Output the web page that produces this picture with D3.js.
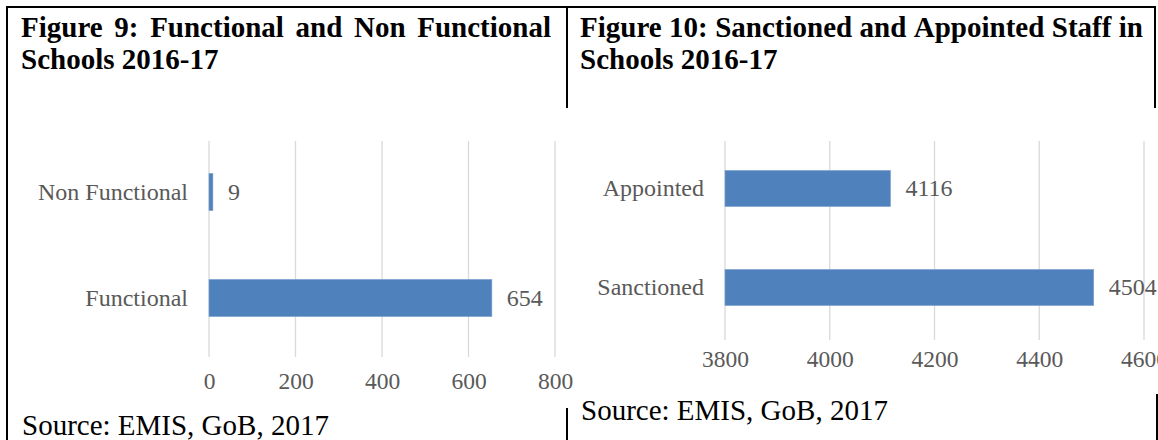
<!DOCTYPE html>
<html>
<head>
<meta charset="utf-8">
<script src="https://cdn.jsdelivr.net/npm/d3@7"></script>
<style>
  html, body { margin: 0; padding: 0; background: #fff; }
  svg { display: block; }
</style>
</head>
<body>
<svg id="chart" width="1158" height="440"></svg>
<script>
// ---- Data ----
const fig9Title1 = "Figure 9: Functional and Non Functional";
const fig9Title2 = "Schools 2016-17";
const fig9Categories = ["Non Functional", "Functional"];
const fig9Values = [9, 654];
const fig9Ticks = [0, 200, 400, 600, 800];

const fig10Title1 = "Figure 10: Sanctioned and Appointed Staff in";
const fig10Title2 = "Schools 2016-17";
const fig10Categories = ["Appointed", "Sanctioned"];
const fig10Values = [4116, 4504];
const fig10Ticks = [3800, 4000, 4200, 4400, 4600];

const sourceText = "Source: EMIS, GoB, 2017";

// ---- Styles ----
const SERIF = "'Liberation Serif', 'Times New Roman', serif";
const BAR = "#4f81bd";
const GRID = "#d9d9d9";
const TXT = "#595959";

const svg = d3.select("#chart");
svg.append("rect").attr("width", 1158).attr("height", 440).attr("fill", "#fff");

// ---- Table borders ----
const borders = svg.append("g").attr("stroke", "#000").attr("stroke-width", 2);
borders.append("line").attr("x1", 6).attr("x2", 1156).attr("y1", 7).attr("y2", 7);
borders.append("line").attr("x1", 7).attr("x2", 7).attr("y1", 6).attr("y2", 440);
borders.append("line").attr("x1", 567).attr("x2", 567).attr("y1", 6).attr("y2", 108);
borders.append("line").attr("x1", 1155).attr("x2", 1155).attr("y1", 6).attr("y2", 108);
borders.append("line").attr("x1", 567).attr("x2", 567).attr("y1", 408).attr("y2", 440);
borders.append("line").attr("x1", 1157).attr("x2", 1157).attr("y1", 394).attr("y2", 440);

// ---- Title helpers ----
function justified(str, x0, x1, y) {
  const words = str.split(" ");
  const g = svg.append("g")
    .attr("font-family", SERIF).attr("font-weight", "bold")
    .attr("font-size", 29).attr("fill", "#000");
  const nodes = words.map(w => g.append("text").attr("y", y).text(w));
  const widths = nodes.map(n => n.node().getComputedTextLength());
  const total = widths.reduce((a, b) => a + b, 0);
  const gap = (x1 - x0 - total) / (words.length - 1);
  let x = x0;
  nodes.forEach((n, i) => { n.attr("x", x); x += widths[i] + gap; });
}
function plainTitle(str, x, y) {
  svg.append("text").attr("x", x).attr("y", y)
    .attr("font-family", SERIF).attr("font-weight", "bold")
    .attr("font-size", 29).attr("fill", "#000").text(str);
}

justified(fig9Title1, 21, 551, 37);
plainTitle(fig9Title2, 21, 69);
justified(fig10Title1, 580, 1143, 37);
plainTitle(fig10Title2, 580, 69);

// ---- Bar chart builder ----
function barChart(cfg) {
  const g = svg.append("g");
  // white chart area (covers table lines like the embedded image)
  g.append("rect").attr("x", cfg.area[0]).attr("y", cfg.area[1])
    .attr("width", cfg.area[2]).attr("height", cfg.area[3]).attr("fill", "#fff");

  const x = d3.scaleLinear().domain([cfg.ticks[0], cfg.ticks[cfg.ticks.length - 1]])
    .range([cfg.x0, cfg.x1]);
  const y = d3.scaleBand().domain(cfg.categories)
    .range([cfg.yTop, cfg.yBottom]).paddingInner(cfg.padIn).paddingOuter(cfg.padIn / 2);

  // gridlines
  g.append("g").selectAll("line").data(cfg.ticks).join("line")
    .attr("x1", d => x(d)).attr("x2", d => x(d))
    .attr("y1", cfg.gridTop).attr("y2", cfg.gridBottom)
    .attr("stroke", GRID).attr("stroke-width", 1.3);

  // x axis tick labels
  const xa = g.append("g").attr("transform", `translate(0,${cfg.tickY})`)
    .call(d3.axisBottom(x).tickValues(cfg.ticks).tickSize(0).tickPadding(0).tickFormat(d3.format("d")));
  xa.select(".domain").remove();
  xa.attr("font-family", SERIF);
  xa.selectAll("text").attr("font-family", SERIF).attr("font-size", 23.5)
    .attr("fill", TXT).attr("dy", "0.32em");

  // y axis category labels
  const ya = g.append("g").attr("transform", `translate(${cfg.x0},0)`)
    .call(d3.axisLeft(y).tickSize(0).tickPadding(21));
  ya.select(".domain").remove();
  ya.attr("font-family", SERIF);
  ya.selectAll("text").attr("font-family", SERIF).attr("font-size", 24).attr("fill", TXT);

  const data = cfg.categories.map((c, i) => ({ c, v: cfg.values[i] }));
  // bars
  g.append("g").selectAll("rect").data(data).join("rect")
    .attr("x", x(cfg.ticks[0])).attr("y", d => y(d.c))
    .attr("width", d => x(d.v) - x(cfg.ticks[0])).attr("height", y.bandwidth())
    .attr("fill", BAR).attr("stroke", "#7aa0cf").attr("stroke-width", 0.6);
  // value labels
  g.append("g").selectAll("text").data(data).join("text")
    .attr("x", d => x(d.v) + 15).attr("y", d => y(d.c) + y.bandwidth() / 2)
    .attr("dy", "0.32em")
    .attr("font-family", SERIF).attr("font-size", 24).attr("fill", TXT)
    .text(d => d.v);
}

barChart({
  area: [9, 109, 557, 298],
  categories: fig9Categories, values: fig9Values, ticks: fig9Ticks,
  x0: 209, x1: 555, yTop: 139, yBottom: 351, padIn: 0.65,
  gridTop: 141, gridBottom: 357, tickY: 381
});

barChart({
  area: [573, 109, 585, 284],
  categories: fig10Categories, values: fig10Values, ticks: fig10Ticks,
  x0: 725, x1: 1144, yTop: 139, yBottom: 337, padIn: 0.636,
  gridTop: 141, gridBottom: 340, tickY: 359
});

// ---- Source lines ----
svg.append("text").attr("x", 22).attr("y", 435)
  .attr("font-family", SERIF).attr("font-size", 29).attr("fill", "#000").text(sourceText);
svg.append("text").attr("x", 581).attr("y", 420)
  .attr("font-family", SERIF).attr("font-size", 29).attr("fill", "#000").text(sourceText);
</script>
</body>
</html>
